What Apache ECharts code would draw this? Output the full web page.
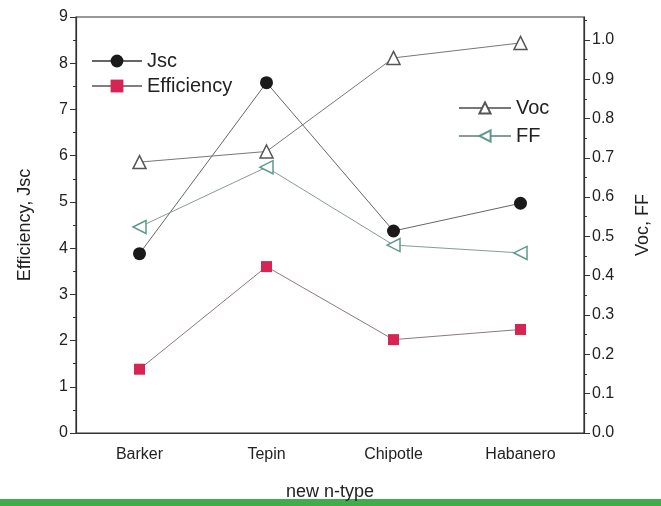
<!DOCTYPE html>
<html><head><meta charset="utf-8">
<script src="https://cdn.jsdelivr.net/npm/echarts@6/dist/echarts.min.js"></script>
<style>html,body{margin:0;padding:0;background:#fff}#c{width:661px;height:506px}</style>
</head><body><div id="c"></div>
<script>
const categories = ['Barker', 'Tepin', 'Chipotle', 'Habanero'];
const jsc = [3.88, 7.58, 4.37, 4.97];
const efficiency = [1.38, 3.60, 2.02, 2.24];
const voc = [0.689, 0.716, 0.954, 0.992];
const ff = [0.524, 0.676, 0.478, 0.458];
const rightTicks = [0, 0.1, 0.2, 0.3, 0.4, 0.5, 0.6, 0.7, 0.8, 0.9, 1.0];

const chart = echarts.init(document.getElementById('c'));
const font = 'Liberation Sans, Arial, sans-serif';
const axisCol = '#333';
chart.setOption({
  backgroundColor: '#fff',
  animation: false,
  grid: {left: 76, right: 77, top: 17, bottom: 72, show: true, borderColor: axisCol, borderWidth: 1.2},
  legend: [
    {data: ['Jsc', 'Efficiency'], orient: 'vertical', left: 86, top: 46, itemWidth: 50, itemHeight: 16, itemGap: 5,
     textStyle: {fontFamily: font, fontSize: 20, color: '#222'}},
    {data: ['Voc', 'FF'], orient: 'vertical', left: 453, top: 93, itemWidth: 52, itemHeight: 14, itemGap: 8,
     textStyle: {fontFamily: font, fontSize: 20, color: '#222'}}
  ],
  xAxis: [
    {type: 'category', data: categories, boundaryGap: true, position: 'bottom',
     name: 'new n-type', nameLocation: 'middle', nameGap: 50,
     nameTextStyle: {fontFamily: font, fontSize: 18, color: '#222'},
     axisLine: {lineStyle: {color: axisCol, width: 1.2}},
     axisTick: {alignWithLabel: true, length: 6, lineStyle: {color: axisCol}},
     axisLabel: {fontFamily: font, fontSize: 16, color: '#222', margin: 14},
     splitLine: {show: false}},
    {type: 'category', data: categories, boundaryGap: true, position: 'bottom',
     axisLine: {show: false}, axisLabel: {show: false},
     axisTick: {length: 4, lineStyle: {color: axisCol}}, splitLine: {show: false}}
  ],
  yAxis: [
    {type: 'value', min: 0, max: 9, interval: 1, position: 'left',
     name: 'Efficiency, Jsc', nameLocation: 'middle', nameGap: 42, nameRotate: 90,
     nameTextStyle: {fontFamily: font, fontSize: 18, color: '#222'},
     axisLine: {show: true, lineStyle: {color: axisCol, width: 1.2}},
     axisTick: {show: true, length: 6, lineStyle: {color: axisCol}},
     minorTick: {show: true, splitNumber: 2, length: 3, lineStyle: {color: axisCol}},
     axisLabel: {fontFamily: font, fontSize: 16, color: '#222', margin: 8},
     splitLine: {show: false}},
    {type: 'value', min: 0, max: 1.058, interval: 0.1, position: 'right',
     name: 'Voc, FF', nameLocation: 'middle', nameGap: 50, nameRotate: 90,
     nameTextStyle: {fontFamily: font, fontSize: 18, color: '#222'},
     axisLine: {show: true, lineStyle: {color: axisCol, width: 1.2}},
     axisTick: {show: true, length: 6, lineStyle: {color: axisCol}, customValues: rightTicks},
     minorTick: {show: true, splitNumber: 2, length: 3, lineStyle: {color: axisCol}},
     axisLabel: {fontFamily: font, fontSize: 16, color: '#222', margin: 8, customValues: rightTicks,
       formatter: v => v.toFixed(1)},
     splitLine: {show: false}}
  ],
  series: [
    {name: 'Jsc', type: 'line', data: jsc, yAxisIndex: 0, symbol: 'circle', symbolSize: 13,
     lineStyle: {color: '#666', width: 1}, itemStyle: {color: '#1a1a1a'}},
    {name: 'Efficiency', type: 'line', data: efficiency, yAxisIndex: 0, symbol: 'rect', symbolSize: 11,
     lineStyle: {color: '#8a7a7e', width: 1}, itemStyle: {color: '#d62553'}},
    {name: 'Voc', type: 'line', data: voc, yAxisIndex: 1, symbol: 'triangle', symbolSize: 13,
     lineStyle: {color: '#777', width: 1}, itemStyle: {color: '#fff', borderColor: '#555', borderWidth: 1.5}},
    {name: 'FF', type: 'line', data: ff, yAxisIndex: 1, symbol: 'triangle', symbolSize: 13, symbolRotate: 90,
     lineStyle: {color: '#8a9a96', width: 1}, itemStyle: {color: '#fff', borderColor: '#5f9a8e', borderWidth: 1.5}}
  ],
  graphic: [
    {type: 'rect', left: 0, top: 499, shape: {width: 661, height: 7}, style: {fill: '#3fae4a'}}
  ]
});
</script></body></html>
